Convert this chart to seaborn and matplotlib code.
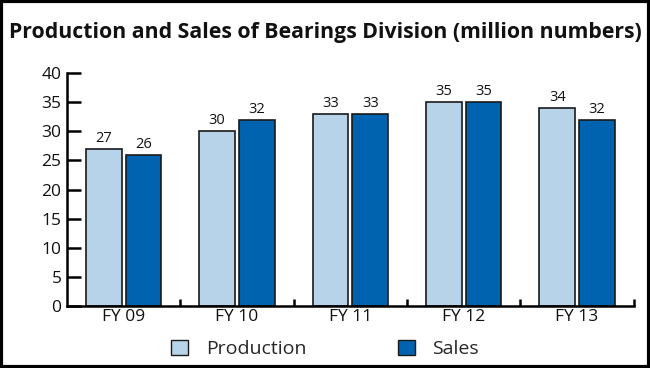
import matplotlib
matplotlib.use("Agg")
import matplotlib.pyplot as plt
import seaborn as sns
import pandas as pd
from matplotlib.patches import Rectangle, Patch
from matplotlib.ticker import FixedLocator

years = ["FY 09", "FY 10", "FY 11", "FY 12", "FY 13"]
production = [27, 30, 33, 35, 34]
sales = [26, 32, 33, 35, 32]
series_names = ["Production", "Sales"]
colors = ["#b7d3ea", "#0063b0"]

df = pd.DataFrame({
    "year": years * 2,
    "value": production + sales,
    "series": [series_names[0]] * len(years) + [series_names[1]] * len(years),
})

sns.set_theme(style="white")
plt.rcParams['font.family'] = ['Open Sans', 'DejaVu Sans']

fig = plt.figure(figsize=(6.5, 3.68), dpi=100)
ax = fig.add_axes([0.103, 0.168, 0.872, 0.634])

sns.barplot(data=df, x="year", y="value", hue="series", palette=colors,
            saturation=1, width=0.7, gap=0.1, edgecolor="#1a1a1a", linewidth=1.2,
            ax=ax, legend=False)

for cont in ax.containers:
    ax.bar_label(cont, fmt="%d", padding=2, fontsize=10.5, color="#111111")

ax.set_xlim(-0.5, 4.5)
ax.set_ylim(0, 40)
ax.set_yticks(range(0, 41, 5))
ax.set_xlabel("")
ax.set_ylabel("")
for s in ["top", "right"]:
    ax.spines[s].set_visible(False)
for s in ["left", "bottom"]:
    ax.spines[s].set_color("black")
    ax.spines[s].set_linewidth(1.8)
ax.tick_params(axis="y", direction="in", length=10, width=1.8, color="black",
               labelsize=12.5, pad=4, left=True, labelcolor="#111111")
ax.tick_params(axis="x", which="major", length=0, labelsize=12.5, pad=2,
               labelcolor="#111111")
ax.xaxis.set_minor_locator(FixedLocator([0.5, 1.5, 2.5, 3.5, 4.5]))
ax.tick_params(axis="x", which="minor", direction="in", length=5, width=1.8,
               color="black", bottom=True)

fig.text(0.5, 0.913, "Production and Sales of Bearings Division (million numbers)",
         ha="center", va="center", fontsize=15.3, fontweight="bold",
         color="#111111", family=["Open Sans", "DejaVu Sans"])

handles = [Patch(facecolor=c, edgecolor="#1a1a1a", linewidth=1.0) for c in colors]
fig.legend(handles, series_names, loc="center", bbox_to_anchor=(0.5, 0.052),
           ncol=2, frameon=False, fontsize=14, handlelength=0.88, handleheight=0.88,
           columnspacing=4.7, handletextpad=0.9, borderpad=0.0)

fig.patches.append(Rectangle((0.002, 0.003), 0.996, 0.994, transform=fig.transFigure,
                             fill=False, edgecolor="black", linewidth=3, zorder=10))

fig.savefig("out.png", dpi=100)
